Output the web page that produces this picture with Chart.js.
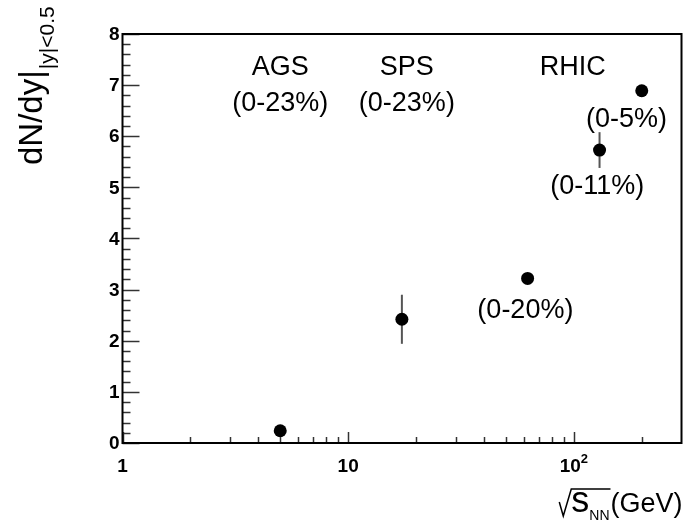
<!DOCTYPE html>
<html>
<head>
<meta charset="utf-8">
<script src="https://cdn.jsdelivr.net/npm/chart.js@4.4.1/dist/chart.umd.min.js"></script>
<style>
  html, body { margin: 0; padding: 0; background: #fff; }
  #wrap { width: 688px; height: 531px; }
</style>
</head>
<body>
<div id="wrap"><canvas id="yieldChart" width="688" height="531"></canvas></div>
<script>
// Collision energies (GeV) and mid-rapidity yields
const energies = [5.0, 17.3, 62.4, 130, 200];
const yields = [0.24, 2.42, 3.22, 5.73, 6.89];
const yieldErrors = [0, 0.48, 0, 0.35, 0];

// Axis ticks
const yMajorTicks = [0, 1, 2, 3, 4, 5, 6, 7, 8];
const xMajorTicks = [1, 10, 100];
const xMajorLabels = ['1', '10', '10^2'];
const xMinorTicks = [2, 3, 4, 5, 6, 7, 8, 9, 20, 30, 40, 50, 60, 70, 80, 90, 200];

// Experiment / centrality annotations: [text, energy, value at baseline]
const annotations = [
    ['AGS', 5.0, 7.20],
    ['(0-23%)', 5.0, 6.50],
    ['SPS', 18.2, 7.20],
    ['(0-23%)', 18.2, 6.50],
    ['RHIC', 99, 7.20],
    ['(0-5%)', 171, 6.18],
    ['(0-11%)', 127, 4.87],
    ['(0-20%)', 61, 2.45]
];

const FONT = '"Liberation Sans", Arial, Helvetica, sans-serif';

// Frame, inward ticks, labels, error bars and titles (ROOT style)
const rootFramePlugin = {
    id: 'rootFrame',
    beforeDatasetsDraw(chart) {
        const ctx = chart.ctx;
        const xs = chart.scales.x;
        const ys = chart.scales.y;
        ctx.save();
        ctx.strokeStyle = '#555';
        ctx.lineWidth = 2;
        energies.forEach((e, i) => {
            if (!yieldErrors[i]) return;
            const px = xs.getPixelForValue(e);
            ctx.beginPath();
            ctx.moveTo(px, ys.getPixelForValue(yields[i] - yieldErrors[i]));
            ctx.lineTo(px, ys.getPixelForValue(yields[i] + yieldErrors[i]));
            ctx.stroke();
        });
        ctx.restore();
    },
    afterDraw(chart) {
        const ctx = chart.ctx;
        const area = chart.chartArea;
        const xs = chart.scales.x;
        const ys = chart.scales.y;
        ctx.save();

        // y ticks
        ctx.strokeStyle = '#333';
        ctx.lineWidth = 1.5;
        for (let v = 0; v <= 8.001; v += 0.2) {
            const py = Math.round(ys.getPixelForValue(v)) + 0.5;
            const major = Math.abs(v - Math.round(v)) < 0.01;
            ctx.beginPath();
            ctx.moveTo(area.left, py);
            ctx.lineTo(area.left + (major ? 17 : 8), py);
            ctx.stroke();
        }
        // x ticks
        xMajorTicks.concat(xMinorTicks).forEach(v => {
            const px = Math.round(xs.getPixelForValue(v)) + 0.5;
            const major = xMajorTicks.includes(v);
            ctx.beginPath();
            ctx.moveTo(px, area.bottom);
            ctx.lineTo(px, area.bottom - (major ? 11 : 6));
            ctx.stroke();
        });

        // frame
        ctx.strokeStyle = '#000';
        ctx.lineWidth = 2;
        ctx.strokeRect(area.left, area.top, area.right - area.left, area.bottom - area.top);

        // y tick labels
        ctx.fillStyle = '#000';
        ctx.font = 'bold 19px ' + FONT;
        ctx.textAlign = 'right';
        ctx.textBaseline = 'middle';
        yMajorTicks.forEach(v => {
            ctx.fillText(String(v), area.left - 3, ys.getPixelForValue(v) + 1);
        });

        // x tick labels
        ctx.textBaseline = 'alphabetic';
        xMajorTicks.forEach((v, i) => {
            const px = xs.getPixelForValue(v);
            const parts = xMajorLabels[i].split('^');
            ctx.font = 'bold 19px ' + FONT;
            const w0 = ctx.measureText(parts[0]).width;
            let w1 = 0;
            if (parts[1]) {
                ctx.font = 'bold 13px ' + FONT;
                w1 = ctx.measureText(parts[1]).width;
            }
            const x0 = px - (w0 + w1) / 2;
            ctx.textAlign = 'left';
            ctx.font = 'bold 19px ' + FONT;
            ctx.fillText(parts[0], x0, 472);
            if (parts[1]) {
                ctx.font = 'bold 13px ' + FONT;
                ctx.fillText(parts[1], x0 + w0, 463);
            }
        });

        // annotations
        ctx.font = '27px ' + FONT;
        ctx.textAlign = 'center';
        ctx.textBaseline = 'alphabetic';
        annotations.forEach(a => {
            ctx.fillText(a[0], xs.getPixelForValue(a[1]), ys.getPixelForValue(a[2]));
        });

        // x title: sqrt(s_NN)(GeV)
        ctx.textAlign = 'right';
        ctx.font = '27px ' + FONT;
        const xr = area.right + 1;
        ctx.fillText('(GeV)', xr, 512);
        const gevW = ctx.measureText('(GeV)').width;
        ctx.font = '14px ' + FONT;
        ctx.fillText('NN', xr - gevW - 1, 520);
        const nnW = ctx.measureText('NN').width;
        ctx.font = '36px ' + FONT;
        ctx.fillText('s', xr - gevW - nnW - 1, 512);
        const sW = ctx.measureText('s').width;
        const rootEnd = xr - gevW;
        const rootTop = xr - gevW - nnW - sW - 1;
        ctx.strokeStyle = '#000';
        ctx.lineWidth = 1.5;
        ctx.beginPath();
        ctx.moveTo(rootTop - 12, 502);
        ctx.lineTo(rootTop - 8, 516);
        ctx.lineTo(rootTop, 489);
        ctx.lineTo(rootEnd, 489);
        ctx.stroke();

        // y title: dN/dy|_{|y|<0.5}
        ctx.translate(42, 165);
        ctx.rotate(-Math.PI / 2);
        ctx.textAlign = 'left';
        ctx.font = '33px ' + FONT;
        ctx.fillText('dN/dy|', 0, 0);
        const mainW = ctx.measureText('dN/dy|').width;
        ctx.font = '21px ' + FONT;
        ctx.fillText('|y|<0.5', mainW + 1, 12);

        ctx.restore();
    }
};

const ctx = document.getElementById('yieldChart');
new Chart(ctx, {
    type: 'scatter',
    data: {
        datasets: [{
            label: 'dN/dy',
            data: energies.map((e, i) => ({ x: e, y: yields[i] })),
            backgroundColor: '#000',
            borderColor: '#000',
            pointRadius: 6.5,
            pointHoverRadius: 6.5,
            borderWidth: 0
        }]
    },
    options: {
        responsive: false,
        animation: false,
        layout: {
            padding: { left: 122.5, right: 5.3, top: 34, bottom: 88 }
        },
        plugins: {
            legend: { display: false },
            tooltip: { enabled: false }
        },
        scales: {
            x: {
                type: 'logarithmic',
                min: 1,
                max: 300,
                display: false
            },
            y: {
                type: 'linear',
                min: 0,
                max: 8,
                display: false
            }
        }
    },
    plugins: [rootFramePlugin]
});
</script>
</body>
</html>
